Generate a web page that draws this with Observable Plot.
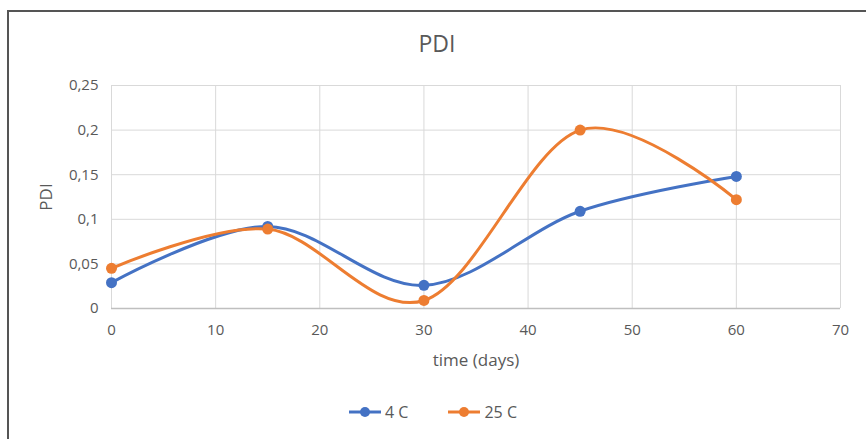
<!DOCTYPE html>
<html>
<head>
<meta charset="utf-8">
<script src="https://cdn.jsdelivr.net/npm/d3@7"></script>
<script src="https://cdn.jsdelivr.net/npm/@observablehq/plot@0.6"></script>
<style>
  html, body { margin: 0; padding: 0; background: #fff; }
  #wrap { position: relative; width: 866px; height: 439px; overflow: hidden; font-family: "Open Sans", "Liberation Sans", sans-serif; color: #595959; }
  #frame { position: absolute; left: 7px; top: 10px; width: 900px; height: 500px; border-left: 2px solid #555; border-top: 2px solid #555; }
  #title { position: absolute; left: 0; width: 874px; top: 27px; text-align: center; font-size: 23px; color: #595959; }
  #chart { position: absolute; left: 0; top: 0; }
  #legend { position: absolute; top: 401px; left: 0; width: 866px; display: flex; justify-content: center; gap: 40px; font-size: 16px; color: #595959; }
  .item { display: flex; align-items: center; gap: 4px; }
</style>
</head>
<body>
<div id="wrap">
  <div id="frame"></div>
  <div id="chart"></div>
  <div id="title">PDI</div>
  <div id="legend"></div>
</div>
<script>
const times = [0, 15, 30, 45, 60];
const pdi4C = [0.029, 0.092, 0.026, 0.109, 0.148];
const pdi25C = [0.045, 0.089, 0.009, 0.200, 0.122];
const seriesNames = ["4 C", "25 C"];
const seriesColors = ["#4472C4", "#ED7D31"];
const xTicks = [0, 10, 20, 30, 40, 50, 60, 70];
const yTicks = [0, 0.05, 0.1, 0.15, 0.2, 0.25];

const data = [];
[pdi4C, pdi25C].forEach((vals, si) => {
  times.forEach((t, i) => data.push({ series: seriesNames[si], time: t, pdi: vals[i] }));
});
const fmt = d => String(d).replace(".", ",");

const chart = Plot.plot({
  width: 866,
  height: 380,
  marginLeft: 111,
  marginRight: 26,
  marginTop: 85,
  marginBottom: 72,
  style: { fontFamily: "'Open Sans', 'Liberation Sans', sans-serif", fontSize: "15px", color: "#595959", background: "transparent" },
  x: { domain: [0, 70] },
  y: { domain: [0, 0.25] },
  color: { domain: seriesNames, range: seriesColors },
  marks: [
    Plot.gridX(xTicks, { stroke: "#d9d9d9", strokeOpacity: 1, strokeWidth: 1 }),
    Plot.gridY(yTicks, { stroke: "#d9d9d9", strokeOpacity: 1, strokeWidth: 1 }),
    Plot.ruleY([0], { stroke: "#bfbfbf", strokeWidth: 1.5 }),
    Plot.axisX(xTicks, { tickSize: 0, tickPadding: 16, fontSize: 15, label: "time (days)", labelAnchor: "center", labelArrow: "none", labelOffset: 57 }),
    Plot.axisY(yTicks, { tickSize: 0, tickPadding: 13, tickFormat: fmt, fontSize: 15, label: "PDI", labelAnchor: "center", labelArrow: "none", labelOffset: 72 }),
    Plot.line(data, { x: "time", y: "pdi", z: "series", stroke: "series", strokeWidth: 3, curve: "cardinal", tension: 0 }),
    Plot.dot(data, { x: "time", y: "pdi", fill: "series", r: 5.5 })
  ]
});
chart.querySelectorAll("text").forEach(t => { t.setAttribute("fill", "#595959"); t.style.fontSize = "15px"; });
chart.querySelectorAll("g[aria-label$='axis label'] text, g[aria-label$='axis label']").forEach(t => { t.style.fontSize = "17px"; t.setAttribute("font-size", "17"); });
document.getElementById("chart").appendChild(chart);

const legend = document.getElementById("legend");
seriesNames.forEach((name, i) => {
  const item = document.createElement("div");
  item.className = "item";
  item.innerHTML = `<svg width="32" height="12"><line x1="0" y1="6" x2="32" y2="6" stroke="${seriesColors[i]}" stroke-width="3"/><circle cx="16" cy="6" r="5" fill="${seriesColors[i]}"/></svg><span>${name}</span>`;
  legend.appendChild(item);
});
</script>
</body>
</html>
